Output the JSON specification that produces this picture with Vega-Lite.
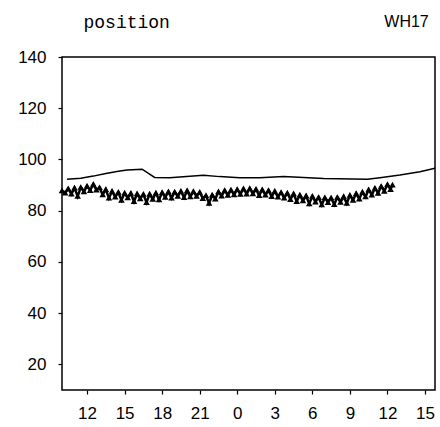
{
  "$schema": "https://vega.github.io/schema/vega-lite/v6.json",
  "width": 373,
  "height": 333,
  "autosize": "none",
  "padding": {"left": 62, "top": 57, "right": 5, "bottom": 37},
  "background": "white",
  "config": {
    "view": {"stroke": "black", "strokeWidth": 1.5},
    "font": "Liberation Sans"
  },
  "datasets": {
    "upper": [
      {"h": 10.4, "v": 92.3}, {"h": 11.5, "v": 92.7}, {"h": 12.5, "v": 93.5}, {"h": 13.5, "v": 94.5},
      {"h": 14.5, "v": 95.4}, {"h": 15.2, "v": 95.9}, {"h": 16.4, "v": 96.2}, {"h": 17.4, "v": 93.0},
      {"h": 18.6, "v": 92.9}, {"h": 21.3, "v": 93.8}, {"h": 22.6, "v": 93.3}, {"h": 24.2, "v": 92.9},
      {"h": 25.8, "v": 92.9}, {"h": 27.7, "v": 93.3}, {"h": 30.9, "v": 92.6}, {"h": 34.4, "v": 92.3},
      {"h": 35.4, "v": 92.9}, {"h": 37.0, "v": 93.9}, {"h": 38.6, "v": 95.2}, {"h": 39.8, "v": 96.6}
    ],
    "lower": [
      {"h": 10.0, "v": 87.8}, {"h": 10.25, "v": 86.9}, {"h": 10.5, "v": 88.6}, {"h": 10.75, "v": 86.5},
      {"h": 11.0, "v": 88.9}, {"h": 11.25, "v": 85.6}, {"h": 11.5, "v": 89.1}, {"h": 11.75, "v": 87.4},
      {"h": 12.0, "v": 89.6}, {"h": 12.25, "v": 87.9}, {"h": 12.5, "v": 90.3}, {"h": 12.75, "v": 88.1},
      {"h": 13.0, "v": 89.0}, {"h": 13.25, "v": 86.2}, {"h": 13.5, "v": 88.3}, {"h": 13.75, "v": 84.9},
      {"h": 14.0, "v": 87.6}, {"h": 14.25, "v": 85.3}, {"h": 14.5, "v": 87.2}, {"h": 14.75, "v": 84.1},
      {"h": 15.0, "v": 86.9}, {"h": 15.25, "v": 85.0}, {"h": 15.5, "v": 86.8}, {"h": 15.75, "v": 83.6},
      {"h": 16.0, "v": 86.6}, {"h": 16.25, "v": 84.7}, {"h": 16.5, "v": 86.4}, {"h": 16.75, "v": 83.2},
      {"h": 17.0, "v": 86.5}, {"h": 17.25, "v": 84.5}, {"h": 17.5, "v": 86.9}, {"h": 17.75, "v": 84.3},
      {"h": 18.0, "v": 87.1}, {"h": 18.25, "v": 85.2}, {"h": 18.5, "v": 87.4}, {"h": 18.75, "v": 84.9},
      {"h": 19.0, "v": 87.3}, {"h": 19.25, "v": 85.6}, {"h": 19.5, "v": 87.6}, {"h": 19.75, "v": 85.1},
      {"h": 20.0, "v": 87.8}, {"h": 20.25, "v": 85.4}, {"h": 20.5, "v": 87.5}, {"h": 20.75, "v": 85.6},
      {"h": 21.0, "v": 87.2}, {"h": 21.25, "v": 84.8}, {"h": 21.5, "v": 85.9}, {"h": 21.75, "v": 82.9},
      {"h": 22.0, "v": 86.1}, {"h": 22.25, "v": 84.6}, {"h": 22.5, "v": 87.4}, {"h": 22.75, "v": 85.7},
      {"h": 23.0, "v": 87.9}, {"h": 23.25, "v": 86.0}, {"h": 23.5, "v": 88.1}, {"h": 23.75, "v": 86.2},
      {"h": 24.0, "v": 88.3}, {"h": 24.25, "v": 86.4}, {"h": 24.5, "v": 88.6}, {"h": 24.75, "v": 86.5},
      {"h": 25.0, "v": 88.7}, {"h": 25.25, "v": 86.6}, {"h": 25.5, "v": 88.4}, {"h": 25.75, "v": 85.9},
      {"h": 26.0, "v": 88.2}, {"h": 26.25, "v": 86.1}, {"h": 26.5, "v": 87.9}, {"h": 26.75, "v": 85.5},
      {"h": 27.0, "v": 87.6}, {"h": 27.25, "v": 85.3}, {"h": 27.5, "v": 87.1}, {"h": 27.75, "v": 84.9},
      {"h": 28.0, "v": 86.9}, {"h": 28.25, "v": 84.4}, {"h": 28.5, "v": 86.6}, {"h": 28.75, "v": 83.6},
      {"h": 29.0, "v": 86.1}, {"h": 29.25, "v": 83.9}, {"h": 29.5, "v": 85.8}, {"h": 29.75, "v": 82.7},
      {"h": 30.0, "v": 85.6}, {"h": 30.25, "v": 83.4}, {"h": 30.5, "v": 85.2}, {"h": 30.75, "v": 82.3},
      {"h": 31.0, "v": 85.1}, {"h": 31.25, "v": 83.2}, {"h": 31.5, "v": 85.0}, {"h": 31.75, "v": 82.4},
      {"h": 32.0, "v": 85.2}, {"h": 32.25, "v": 83.3}, {"h": 32.5, "v": 85.5}, {"h": 32.75, "v": 82.9},
      {"h": 33.0, "v": 86.0}, {"h": 33.25, "v": 84.1}, {"h": 33.5, "v": 86.7}, {"h": 33.75, "v": 84.6},
      {"h": 34.0, "v": 87.3}, {"h": 34.25, "v": 85.4}, {"h": 34.5, "v": 88.2}, {"h": 34.75, "v": 86.1},
      {"h": 35.0, "v": 88.8}, {"h": 35.25, "v": 86.8}, {"h": 35.5, "v": 89.5}, {"h": 35.75, "v": 87.6},
      {"h": 36.0, "v": 90.2}, {"h": 36.25, "v": 88.3}, {"h": 36.4, "v": 90.0}
    ]
  },
  "encoding": {
    "x": {
      "field": "h",
      "type": "quantitative",
      "scale": {"domain": [10, 39.8], "nice": false, "zero": false},
      "axis": {
        "values": [12, 15, 18, 21, 24, 27, 30, 33, 36, 39],
        "labelExpr": "datum.value % 24",
        "title": null,
        "grid": false,
        "domain": false,
        "tickColor": "black",
        "tickSize": 4,
        "tickWidth": 1.2,
        "labelColor": "black",
        "labelFont": "Liberation Sans",
        "labelFontSize": 17,
        "labelPadding": 11,
        "labelFlush": false
      }
    },
    "y": {
      "field": "v",
      "type": "quantitative",
      "scale": {"domain": [10, 140], "nice": false, "zero": false},
      "axis": {
        "values": [20, 40, 60, 80, 100, 120, 140],
        "title": "position",
        "titleAngle": 0,
        "titleAlign": "left",
        "titleBaseline": "alphabetic",
        "titleX": 21,
        "titleY": -30,
        "titleFont": "Liberation Mono",
        "titleFontSize": 18,
        "titleFontWeight": "normal",
        "titleColor": "black",
        "grid": false,
        "domain": false,
        "tickColor": "black",
        "tickSize": 4,
        "tickWidth": 1.2,
        "labelColor": "black",
        "labelFont": "Liberation Sans",
        "labelFontSize": 17,
        "labelPadding": 12,
        "labelFlush": false
      }
    }
  },
  "layer": [
    {
      "data": {"name": "upper"},
      "mark": {"type": "line", "color": "black", "strokeWidth": 1.5}
    },
    {
      "data": {"name": "lower"},
      "mark": {"type": "line", "color": "black", "strokeWidth": 2.5}
    },
    {
      "data": {"name": "lower"},
      "mark": {"type": "point", "shape": "triangle-up", "filled": false, "color": "black", "size": 16, "strokeWidth": 1.5, "opacity": 1}
    },
    {
      "data": {"values": [{"h": 39.3, "v": 151.7, "label": "WH17"}]},
      "mark": {"type": "text", "align": "right", "baseline": "alphabetic", "font": "Liberation Sans", "fontSize": 16, "color": "black", "clip": false},
      "encoding": {
        "text": {"field": "label", "type": "nominal"}
      }
    }
  ]
}
